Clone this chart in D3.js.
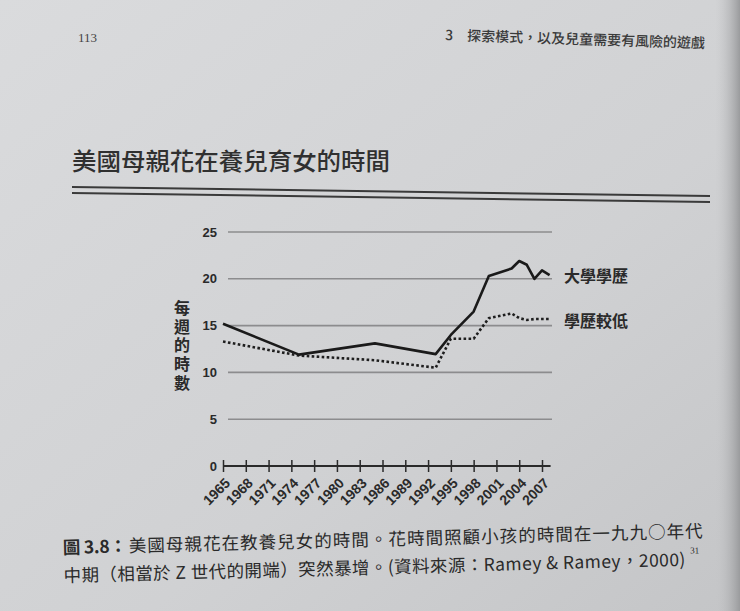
<!DOCTYPE html>
<html><head><meta charset="utf-8">
<script src="https://cdn.jsdelivr.net/npm/d3@7/dist/d3.min.js"></script>
<style>html,body{margin:0;padding:0;background:#d2d3d5;}svg{display:block;}</style>
</head><body>
<svg id="c" width="740" height="611"></svg>
<script>
const years = [1965,1975,1985,1993,1995,1998,2000,2003,2004,2005,2006,2007,2008];
const college = [15.2,11.9,13.1,11.95,14.0,16.5,20.3,21.1,21.9,21.5,20.0,20.9,20.4];
const lessEducated = [13.3,11.8,11.3,10.5,13.6,13.6,15.8,16.3,15.8,15.6,15.7,15.7,15.7];
const xTicks = d3.range(1965, 2008, 3);
const yTicks = [0,5,10,15,20,25];
const seriesNames = ["大學學歷","學歷較低"];
const yTitle = "每週的時數";
const title = "美國母親花在養兒育女的時間";
const header = "3　探索模式，以及兒童需要有風險的遊戲";
const pageNo = "113";
const figLabel = "圖 3.8：";
const caption1 = "美國母親花在教養兒女的時間。花時間照顧小孩的時間在一九九○年代";
const caption2 = "中期（相當於 Z 世代的開端）突然暴增。(資料來源：Ramey & Ramey，2000)";
const noteRef = "31";

const svg = d3.select("#c");
const defs = svg.append("defs");
const g1 = defs.append("linearGradient").attr("id","bg").attr("x1","0").attr("y1","0").attr("x2","1").attr("y2","1");
g1.append("stop").attr("offset","0").attr("stop-color","#dadbdd");
g1.append("stop").attr("offset","0.6").attr("stop-color","#d0d1d3");
g1.append("stop").attr("offset","1").attr("stop-color","#c4c5c7");
svg.append("rect").attr("width",740).attr("height",611).attr("fill","url(#bg)");
const g2 = defs.append("linearGradient").attr("id","edge").attr("x1","0").attr("x2","1");
g2.append("stop").attr("offset","0").attr("stop-color","#c6c7c9").attr("stop-opacity",0);
g2.append("stop").attr("offset","1").attr("stop-color","#9a9b9d").attr("stop-opacity",1);
svg.append("rect").attr("x",715).attr("width",25).attr("height",611).attr("fill","url(#edge)");

const ink = "#2a2a2a";
const cjk = "'Noto Sans CJK TC','Noto Sans CJK SC',sans-serif";
const latin = "'Liberation Sans',Arial,sans-serif";

// page header
svg.append("text").attr("x",78).attr("y",42).attr("font-family","'Liberation Serif',serif")
  .attr("font-size",13).attr("fill","#444").text(pageNo);
svg.append("text").attr("transform","translate(445,40) rotate(1.8)").attr("font-family",cjk)
  .attr("font-size",14).attr("font-weight",500).attr("fill","#3a3a3a").text(header);

// title
svg.append("text").attr("x",72).attr("y",170).attr("font-family",cjk).attr("font-size",24)
  .attr("font-weight",500).attr("fill","#303030").attr("textLength",318).attr("lengthAdjust","spacingAndGlyphs").text(title);
svg.append("line").attr("x1",72).attr("y1",187).attr("x2",710).attr("y2",196).attr("stroke","#3a3a3a").attr("stroke-width",2);
svg.append("line").attr("x1",72).attr("y1",193).attr("x2",710).attr("y2",202).attr("stroke","#3a3a3a").attr("stroke-width",2);

// scales
const x = d3.scaleLinear().domain([1965,2007]).range([223,542]);
const y = d3.scaleLinear().domain([0,25]).range([466,232]);

// gridlines
svg.append("g").selectAll("line").data(yTicks.filter(d=>d>0)).join("line")
  .attr("x1",228).attr("x2",552).attr("y1",d=>y(d)).attr("y2",d=>y(d))
  .attr("stroke","#8c8c8e").attr("stroke-width",1.6);

// y tick labels
svg.append("g").selectAll("text").data(yTicks).join("text")
  .attr("x",217).attr("y",d=>y(d)+4.5).attr("text-anchor","end")
  .attr("font-family",latin).attr("font-weight","bold")
  .attr("font-size",13).attr("fill",ink).text(d=>d);

// x axis
const xAxis = d3.axisBottom(x).tickValues(xTicks).tickSize(6).tickFormat("");
const ax = svg.append("g").attr("transform",`translate(0,${y(0)})`).call(xAxis);
ax.select(".domain").remove();
ax.selectAll(".tick line").attr("y1",-6).attr("y2",6).attr("stroke",ink).attr("stroke-width",1.5);
svg.append("line").attr("x1",x(1965)).attr("x2",x(2008)+1).attr("y1",y(0)).attr("y2",y(0))
  .attr("stroke",ink).attr("stroke-width",1.8);
svg.append("g").selectAll("text").data(xTicks).join("text")
  .attr("transform",d=>`translate(${x(d)+8},${y(0)+18}) rotate(-45)`)
  .attr("text-anchor","end").attr("font-family",latin)
  .attr("font-weight","bold").attr("font-size",14).attr("fill",ink).text(d=>d);

// y title (vertical)
svg.append("text").attr("x",182).attr("y",300)
  .style("writing-mode","vertical-rl").style("letter-spacing","2.7px")
  .attr("font-family",cjk).attr("font-weight",700).attr("font-size",16).attr("fill",ink).text(yTitle);

// lines
const line = d3.line().x(d=>x(d[0])).y(d=>y(d[1]));
svg.append("path").datum(years.map((yr,i)=>[yr,lessEducated[i]])).attr("d",line)
  .attr("fill","none").attr("stroke","#1e1e1e").attr("stroke-width",2.6).attr("stroke-dasharray","2.6,2.4");
svg.append("path").datum(years.map((yr,i)=>[yr,college[i]])).attr("d",line)
  .attr("fill","none").attr("stroke","#1a1a1a").attr("stroke-width",2.6).attr("stroke-linejoin","round");

// legend labels
svg.append("text").attr("x",564).attr("y",282).attr("font-family",cjk).attr("font-weight",700)
  .attr("font-size",16).attr("fill",ink).text(seriesNames[0]);
svg.append("text").attr("x",564).attr("y",327).attr("font-family",cjk).attr("font-weight",700)
  .attr("font-size",16).attr("fill",ink).text(seriesNames[1]);

// caption
const cap = svg.append("g").attr("transform","translate(63,554) rotate(-1.5)")
  .attr("font-family",cjk).attr("font-size",17.5).attr("fill","#2a2a2a");
cap.append("text").attr("x",0).attr("y",0).attr("font-weight",700).attr("textLength",64)
  .attr("lengthAdjust","spacing").text(figLabel);
cap.append("text").attr("x",66).attr("y",0).attr("textLength",574).attr("lengthAdjust","spacing").text(caption1);
cap.append("text").attr("x",0).attr("y",28).attr("textLength",622).attr("lengthAdjust","spacing").text(caption2);
cap.append("text").attr("x",627).attr("y",16).attr("font-size",9).attr("font-family","'Liberation Serif',serif").text(noteRef);
</script>
</body></html>
